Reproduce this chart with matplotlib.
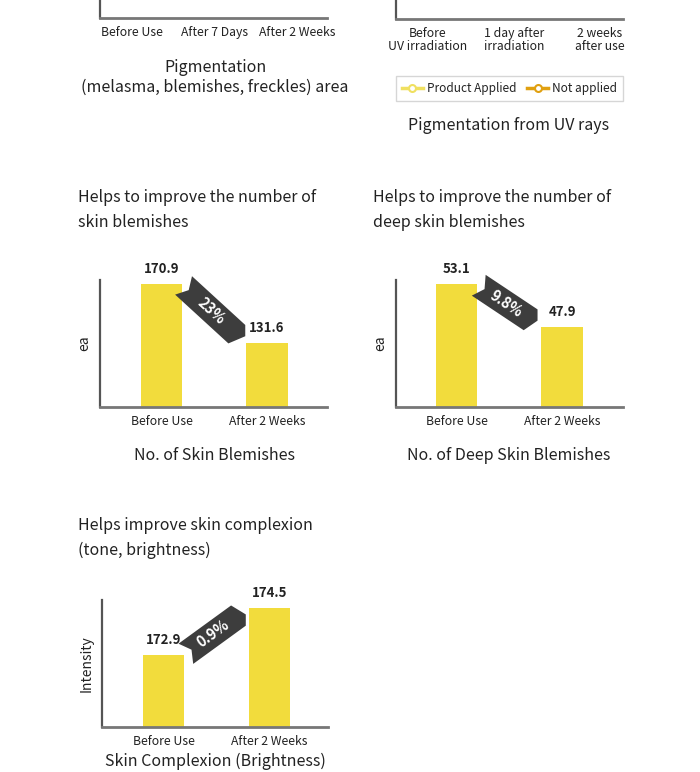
import numpy as np
import matplotlib
matplotlib.use('Agg')
import matplotlib.pyplot as plt
from matplotlib.patches import Polygon
from matplotlib.lines import Line2D

W, H = 700, 772

# data
periods = ['Before Use', 'After 2 Weeks']
blemishes = [170.9, 131.6]
blemish_change = '23%'
deep_blemishes = [53.1, 47.9]
deep_change = '9.8%'
complexion = [172.9, 174.5]
complexion_change = '0.9%'

top_left_ticks = ['Before Use', 'After 7 Days', 'After 2 Weeks']
top_right_ticks = ['Before\nUV irradiation', '1 day after\nirradiation', '2 weeks\nafter use']
legend_labels = ['Product Applied', 'Not applied']

YELLOW = '#f2dc3c'
DARK = '#3d3d3d'
TXT = '#222222'
SPINE = '#555555'

plt.rcParams['font.family'] = ['Noto Sans CJK KR', 'DejaVu Sans']

fig = plt.figure(figsize=(7, 7.72), dpi=100)


def px_axes(left, top, right, bottom):
    return fig.add_axes([left / W, 1 - bottom / H, (right - left) / W, (bottom - top) / H])


def fig_text(x, y, s, **kw):
    kw.setdefault('color', TXT)
    return fig.text(x / W, 1 - y / H, s, **kw)


def style_axes(ax):
    for s in ['top', 'right']:
        ax.spines[s].set_visible(False)
    ax.spines['left'].set_color(SPINE)
    ax.spines['left'].set_linewidth(1.6)
    ax.spines['bottom'].set_color('#777777')
    ax.spines['bottom'].set_linewidth(2)
    ax.set_yticks([])
    ax.tick_params(axis='x', length=0, pad=6, labelsize=8.8, labelcolor=TXT)


def ribbon(ax, v0, v1, label, bw):
    # dark banner going from first bar top to second bar top
    a = ax.transData.transform((bw / 2, v0))
    b = ax.transData.transform((1 - bw / 2, v1))
    u = (b - a) / np.hypot(*(b - a))
    n = np.array([-u[1], u[0]])
    h = 12.5
    c0 = a + 2 * u
    c1 = b - 13 * u
    t1, b1 = c0 + h * n, c0 - h * n
    t2, b2 = c1 + h * n, c1 - h * n
    notch = c0 + 7 * u
    if u[1] < 0:
        r = np.array([t2[0], t2[1] - 0.9 * h])
    else:
        r = np.array([b2[0], b2[1] + 0.9 * h])
    pts = np.array([t1, t2, r, b2, b1, notch])
    pts = ax.transData.inverted().transform(pts)
    ax.add_patch(Polygon(pts, closed=True, facecolor=DARK, edgecolor='none',
                         clip_on=False, zorder=3))
    mid = ax.transData.inverted().transform((c0 + c1) / 2 + 1.5 * u)
    ang = np.degrees(np.arctan2(u[1], u[0]))
    ax.text(mid[0], mid[1], label, rotation=ang, rotation_mode='anchor',
            ha='center', va='center', color='white', fontsize=10.5,
            fontweight='bold', zorder=4, clip_on=False)


def bar_chart(rect, values, ylim, xlim, change, ylabel):
    ax = px_axes(*rect)
    bw = 0.39
    x = np.arange(len(values))
    ax.bar(x, values, width=bw, color=YELLOW, zorder=2)
    ax.set_xlim(*xlim)
    ax.set_ylim(*ylim)
    ax.set_xticks(x)
    ax.set_xticklabels(periods)
    style_axes(ax)
    ax.set_ylabel(ylabel, fontsize=10, color=TXT, labelpad=6)
    for xi, v in zip(x, values):
        ax.annotate(f'{v}', (xi, v), xytext=(0, 6), textcoords='offset points',
                    ha='center', va='bottom', fontsize=9.5, fontweight='bold',
                    color=TXT)
    ribbon(ax, values[0], values[1], change, bw)
    return ax


# top left (cut off)
ax1 = px_axes(100, -80, 327, 18)
ax1.set_xlim(-0.39, 2.36)
ax1.set_xticks([0, 1, 2])
ax1.set_xticklabels(top_left_ticks)
style_axes(ax1)
fig_text(215, 67, 'Pigmentation', ha='center', va='center', fontsize=11.5,
         fontweight='medium')
fig_text(215, 87, '(melasma, blemishes, freckles) area', ha='center', va='center',
         fontsize=11.5, fontweight='medium')

# top right (cut off)
ax2 = px_axes(396, -80, 623, 19)
ax2.set_xlim(-0.37, 2.27)
ax2.set_xticks([0, 1, 2])
ax2.set_xticklabels(top_right_ticks, linespacing=1.0)
style_axes(ax2)
handles = [
    Line2D([], [], color='#f0e060', lw=2.5, marker='o', markersize=5,
           markerfacecolor='white', markeredgewidth=1.5),
    Line2D([], [], color='#e0a010', lw=2.5, marker='o', markersize=5,
           markerfacecolor='white', markeredgewidth=1.5),
]
fig.legend(handles, legend_labels, loc='center', ncol=2,
           bbox_to_anchor=(509.5 / W, 1 - 88.5 / H), fontsize=8.5,
           frameon=True, fancybox=False, edgecolor='#cccccc',
           handlelength=1.8, handletextpad=0.35, columnspacing=0.9,
           borderpad=0.5, labelcolor=TXT)
fig_text(509, 126, 'Pigmentation from UV rays', ha='center', va='center',
         fontsize=11.5, fontweight='medium')

# middle left
fig_text(78, 210, 'Helps to improve the number of\nskin blemishes', ha='left',
         va='center', fontsize=11.5, linespacing=1.55)
bar_chart((100, 280, 327, 407), blemishes, (88.9, 173.6), (-0.583, 1.569),
          blemish_change, 'ea')
fig_text(214, 455, 'No. of Skin Blemishes', ha='center', va='center',
         fontsize=11.5, fontweight='medium')

# middle right
fig_text(373, 210, 'Helps to improve the number of\ndeep skin blemishes', ha='left',
         va='center', fontsize=11.5, linespacing=1.55)
bar_chart((396, 280, 623, 407), deep_blemishes, (38.2, 53.6), (-0.573, 1.578),
          deep_change, 'ea')
fig_text(509, 455, 'No. of Deep Skin Blemishes', ha='center', va='center',
         fontsize=11.5, fontweight='medium')

# bottom left
fig_text(78, 538, 'Helps improve skin complexion\n(tone, brightness)', ha='left',
         va='center', fontsize=11.5, linespacing=1.55)
bar_chart((102, 600, 328, 727), complexion, (170.45, 174.77), (-0.58, 1.55),
          complexion_change, 'Intensity')
fig_text(215, 761, 'Skin Complexion (Brightness)', ha='center', va='center',
         fontsize=11.5, fontweight='medium')

fig.savefig('out.png', dpi=100, facecolor='white')
